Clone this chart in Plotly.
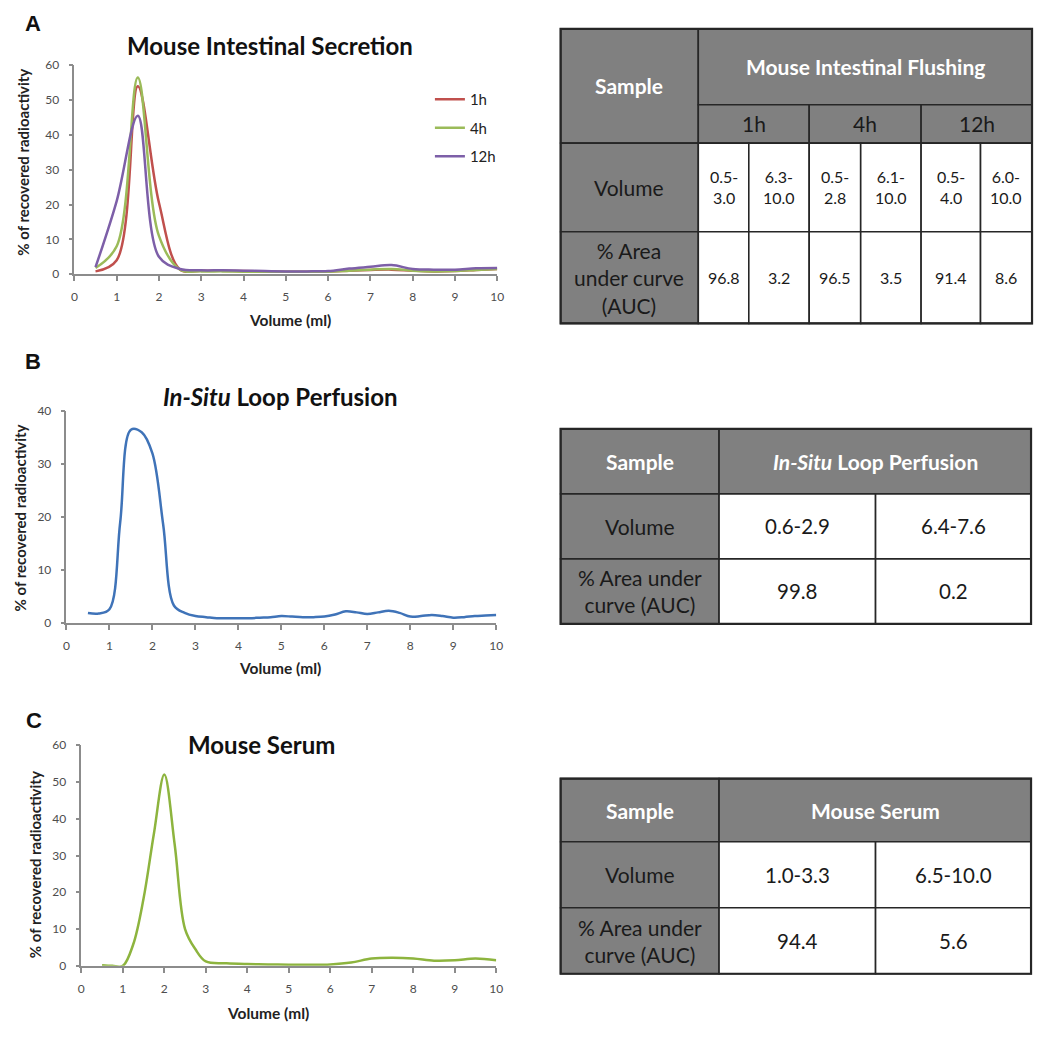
import plotly.graph_objects as go

# page is 1050x1039; the html body keeps its default 8px margin, so the figure is 1034x1023 at (8,8)
OFF = 8
W, H = 1050 - 2 * OFF, 1039 - 2 * OFF

# ---------------- data ----------------
vol_a = [0.5, 1.0, 1.5, 2.0, 2.5, 3.0, 3.5, 4.0, 4.5, 5.0, 5.5, 6.0, 6.5, 7.0, 7.5, 8.0, 8.5, 9.0, 9.5, 10.0]
secretion_1h = [0.8, 4.0, 54.0, 20.5, 1.3, 1.0, 1.0, 0.9, 0.8, 0.7, 0.7, 0.8, 1.0, 1.2, 1.3, 1.0, 0.8, 0.9, 1.2, 1.5]
secretion_4h = [1.8, 8.0, 56.5, 11.0, 1.3, 0.8, 0.8, 0.7, 0.7, 0.7, 0.7, 0.7, 1.0, 1.3, 1.5, 1.0, 0.8, 0.9, 1.2, 1.5]
secretion_12h = [2.0, 21.0, 45.5, 5.0, 1.5, 1.1, 1.1, 1.0, 0.9, 0.8, 0.8, 0.9, 1.6, 2.1, 2.6, 1.5, 1.3, 1.3, 1.7, 1.8]

vol_b = [0.5, 0.75, 1.0, 1.25, 1.5, 1.75, 2.0, 2.25, 2.5, 2.75, 3.0, 3.25, 3.5, 3.75, 4.0, 4.25, 4.5, 4.75,
         5.0, 5.25, 5.5, 5.75, 6.0, 6.25, 6.5, 6.75, 7.0, 7.25, 7.5, 7.75, 8.0, 8.25, 8.5, 8.75, 9.0, 9.25,
         9.5, 9.75, 10.0]
perfusion = [1.9, 1.8, 2.6, 19.0, 36.5, 36.0, 32.0, 18.6, 3.3, 1.9, 1.3, 1.1, 0.9, 0.9, 0.9, 0.9, 1.0, 1.1,
             1.3, 1.2, 1.1, 1.1, 1.2, 1.6, 2.2, 2.0, 1.7, 2.0, 2.3, 1.9, 1.2, 1.3, 1.5, 1.3, 1.0, 1.1,
             1.3, 1.4, 1.5]

vol_c = [0.5, 0.75, 1.0, 1.25, 1.5, 1.75, 2.0, 2.25, 2.5, 2.75, 3.0, 3.5, 4.0, 4.5, 5.0, 5.5, 6.0, 6.5,
         7.0, 7.5, 8.0, 8.5, 9.0, 9.5, 10.0]
serum = [0.2, 0.0, 0.0, 5.8, 18.3, 36.0, 52.0, 33.0, 10.0, 4.5, 1.2, 0.7, 0.5, 0.4, 0.3, 0.3, 0.4, 0.9,
         2.0, 2.2, 2.0, 1.4, 1.5, 2.0, 1.5]

series_names = ["1h", "4h", "12h"]

# tables
tabA_title = "Mouse Intestinal Flushing"
tabA_times = ["1h", "4h", "12h"]
tabA_volume = ["0.5-3.0", "6.3-10.0", "0.5-2.8", "6.1-10.0", "0.5-4.0", "6.0-10.0"]
tabA_auc = ["96.8", "3.2", "96.5", "3.5", "91.4", "8.6"]

tabB_title = "<i>In-Situ</i> Loop Perfusion"
tabB_volume = ["0.6-2.9", "6.4-7.6"]
tabB_auc = ["99.8", "0.2"]

tabC_title = "Mouse Serum"
tabC_volume = ["1.0-3.3", "6.5-10.0"]
tabC_auc = ["94.4", "5.6"]

# ---------------- style ----------------
FONT = "Lato"
RED, GREEN, PURPLE, BLUE = "#C0504D", "#9BBB59", "#7D5FA8", "#3F73B8"
SERUM_GREEN = "#8DB43E"
AXC = "#8c8c8c"
HDR = "#808080"
BORDER = "#262626"


def px(x):
    return (x - OFF) / W


def py(y):
    return 1 - (y - OFF) / H


fig = go.Figure()

for name, vals, col in zip(series_names, [secretion_1h, secretion_4h, secretion_12h], [RED, GREEN, PURPLE]):
    fig.add_trace(go.Scatter(x=vol_a, y=vals, name=name, mode="lines", legendgroup=name,
                             line=dict(color=col, width=2.5, shape="spline", smoothing=1.0),
                             xaxis="x", yaxis="y"))
fig.add_trace(go.Scatter(x=vol_b, y=perfusion, mode="lines", showlegend=False,
                         line=dict(color=BLUE, width=2.5, shape="spline", smoothing=1.0),
                         xaxis="x2", yaxis="y2"))
fig.add_trace(go.Scatter(x=vol_c, y=serum, mode="lines", showlegend=False,
                         line=dict(color=SERUM_GREEN, width=2.5, shape="spline", smoothing=1.0),
                         xaxis="x3", yaxis="y3"))

tickfont = dict(family=FONT, size=12, color="#4d4d4d")


def xax(x0, x1, anchor):
    return dict(domain=[px(x0), px(x1)], range=[0, 10], dtick=1, tick0=0, anchor=anchor,
                showline=True, linecolor=AXC, linewidth=1.5, ticks="outside", ticklen=5,
                tickcolor=AXC, tickwidth=1.5, showgrid=False, zeroline=False, tickfont=tickfont,
                ticklabelstandoff=6, fixedrange=True)


def yax(y0, y1, top, anchor):
    return dict(domain=[py(y1), py(y0)], range=[0, top], dtick=10, anchor=anchor,
                showline=True, linecolor=AXC, linewidth=1.5, ticks="outside", ticklen=4,
                tickcolor=AXC, tickwidth=1.5, showgrid=False, zeroline=False, tickfont=tickfont,
                ticklabelstandoff=7, fixedrange=True)


layout = dict(
    width=W, height=H, margin=dict(l=0, r=0, t=0, b=0),
    paper_bgcolor="white", plot_bgcolor="white",
    font=dict(family=FONT, color="#222"),
    xaxis=xax(72, 499, "y"), yaxis=yax(58, 270, 60, "x"),
    xaxis2=xax(64, 498, "y2"), yaxis2=yax(409, 624, 40, "x2"),
    xaxis3=xax(79, 498, "y3"), yaxis3=yax(748, 972, 60, "x3"),
    legend=dict(x=px(431), y=py(76), xanchor="left", yanchor="top", bgcolor="rgba(0,0,0,0)",
                font=dict(family=FONT, size=15, color="#222"), tracegroupgap=6,
                itemwidth=30),
)

annotations = []
shapes = []


def paper_text(text, x, y, font, angle=0):
    annotations.append(dict(text=text, x=px(x), y=py(y), xref="paper", yref="paper", showarrow=False,
                            xanchor="center", yanchor="middle", textangle=angle, font=font))


# panel letters
for letter, (lx, ly) in zip(["A", "B", "C"], [(30, 16), (30, 359), (31, 723)]):
    paper_text(f"<b>{letter}</b>", lx, ly, dict(family="Liberation Sans", size=22, color="#111"))

# chart titles
for t, (tx, ty) in zip(["<b>Mouse Intestinal Secretion</b>", "<b><i>In-Situ</i> Loop Perfusion</b>",
                        "<b>Mouse Serum</b>"], [(270, 38), (280, 394), (261, 747)]):
    paper_text(t, tx, ty, dict(family=FONT, size=24, color="#111"))

# axis titles
for (tx, ty) in [(290, 317), (280, 670), (268, 1020)]:
    paper_text("<b>Volume (ml)</b>", tx, ty, dict(family=FONT, size=15.5, color="#222"))
for (tx, ty) in [(20, 156), (17, 517), (33, 869)]:
    paper_text("<b>% of recovered radioactivity</b>", tx, ty, dict(family=FONT, size=15, color="#222"),
               angle=-90)


# ---------------- tables (hidden axes in pixel units) ----------------
def make_table(idx, left, top, colw, rowh, cells):
    """cells: list of (c0, c1, r0, r1, text, fill, fontdict)"""
    tw, th = sum(colw), sum(rowh)
    pad = 3
    layout[f"xaxis{idx}"] = dict(domain=[px(left - pad), px(left + tw + pad)], range=[-pad, tw + pad],
                                 visible=False, fixedrange=True, anchor=f"y{idx}")
    layout[f"yaxis{idx}"] = dict(domain=[py(top + th + pad), py(top - pad)], range=[th + pad, -pad],
                                 visible=False, fixedrange=True, anchor=f"x{idx}")
    xe = [0]
    for w in colw:
        xe.append(xe[-1] + w)
    ye = [0]
    for h in rowh:
        ye.append(ye[-1] + h)
    for (c0, c1, r0, r1, text, fill, fnt) in cells:
        shapes.append(dict(type="rect", xref=f"x{idx}", yref=f"y{idx}", x0=xe[c0], x1=xe[c1],
                           y0=ye[r0], y1=ye[r1], fillcolor=fill,
                           line=dict(color=BORDER, width=1.6), layer="below"))
        annotations.append(dict(text=text, x=(xe[c0] + xe[c1]) / 2, y=(ye[r0] + ye[r1]) / 2,
                                xref=f"x{idx}", yref=f"y{idx}", showarrow=False, font=fnt,
                                xanchor="center", yanchor="middle"))
    shapes.append(dict(type="rect", xref=f"x{idx}", yref=f"y{idx}", x0=0, x1=tw, y0=0, y1=th,
                       fillcolor="rgba(0,0,0,0)", line=dict(color=BORDER, width=2.2), layer="below"))


# invisible traces so that the table axes exist
for idx in (4, 5, 6):
    fig.add_trace(go.Scatter(x=[None], y=[None], xaxis=f"x{idx}", yaxis=f"y{idx}", showlegend=False,
                             hoverinfo="skip"))

hdr_white = dict(family=FONT, size=21, color="white")
hdr_dark = dict(family=FONT, size=21, color="#1a1a1a")
lab_dark = dict(family=FONT, size=21, color="#1a1a1a")
val_small = dict(family=FONT, size=16, color="#1a1a1a")
val_big = dict(family=FONT, size=20.5, color="#1a1a1a")

# Table A
cellsA = [(0, 1, 0, 2, "<b>Sample</b>", HDR, hdr_white),
          (1, 7, 0, 1, f"<b>{tabA_title}</b>", HDR, hdr_white)]
for i, t in enumerate(tabA_times):
    cellsA.append((1 + 2 * i, 3 + 2 * i, 1, 2, t, HDR, hdr_dark))
cellsA.append((0, 1, 2, 3, "Volume", HDR, lab_dark))
cellsA.append((0, 1, 3, 4, "% Area<br>under curve<br>(AUC)", HDR, lab_dark))
for i, v in enumerate(tabA_volume):
    cellsA.append((1 + i, 2 + i, 2, 3, v.replace("-", "-<br>", 1), "white", val_small))
for i, v in enumerate(tabA_auc):
    cellsA.append((1 + i, 2 + i, 3, 4, v, "white", val_small))
make_table(4, 563, 21, [139, 51, 61, 52, 61, 60, 52], [77, 39, 90, 93], cellsA)


def simple_table(idx, top, rowh, title, vols, aucs):
    cells = [(0, 1, 0, 1, "<b>Sample</b>", HDR, hdr_white),
             (1, 3, 0, 1, f"<b>{title}</b>", HDR, hdr_white),
             (0, 1, 1, 2, "Volume", HDR, lab_dark),
             (0, 1, 2, 3, "% Area under<br>curve (AUC)", HDR, lab_dark)]
    for i, v in enumerate(vols):
        cells.append((1 + i, 2 + i, 1, 2, v, "white", val_big))
    for i, v in enumerate(aucs):
        cells.append((1 + i, 2 + i, 2, 3, v, "white", val_big))
    make_table(idx, 563, top, [160, 158, 157], rowh, cells)


simple_table(5, 427, [66, 66, 66], tabB_title, tabB_volume, tabB_auc)
simple_table(6, 782, [64, 67, 67], tabC_title, tabC_volume, tabC_auc)

layout["annotations"] = annotations
layout["shapes"] = shapes
fig.update_layout(**layout)

fig.write_html("out.html", config={"displayModeBar": False})
